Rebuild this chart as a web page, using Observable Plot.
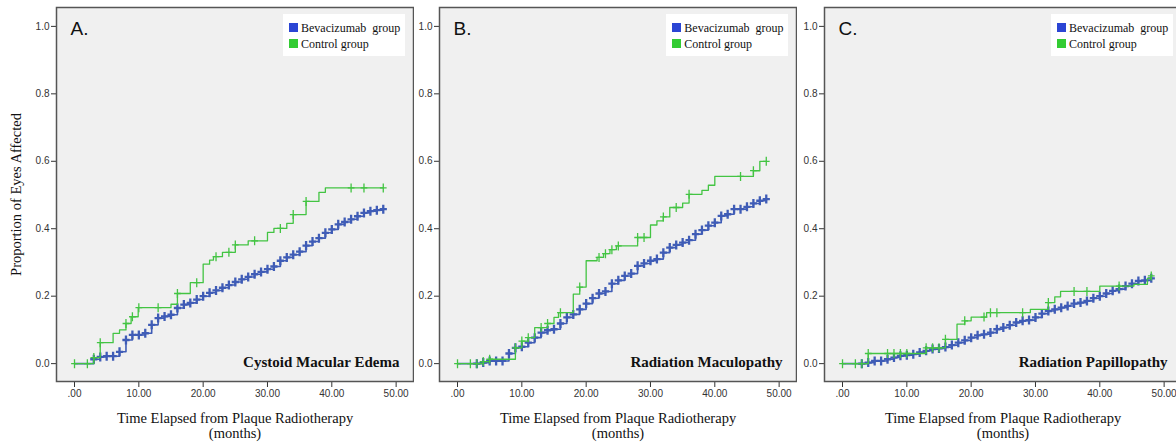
<!DOCTYPE html>
<html><head><meta charset="utf-8">
<script src="https://cdn.jsdelivr.net/npm/d3@7"></script>
<script src="https://cdn.jsdelivr.net/npm/@observablehq/plot@0.6"></script>
<style>
body{margin:0;background:#fff;overflow:hidden;}
#wrap{position:relative;width:1176px;height:442px;overflow:hidden;background:#fff;}
.panel{position:absolute;top:0;width:414px;height:442px;}
.panel svg{position:absolute;left:0;top:0;}
.legend{position:absolute;left:283px;top:14px;width:122px;height:42px;background:#fff;font-family:"Liberation Serif","Times New Roman",serif;font-size:12px;line-height:12px;color:#111;white-space:pre;}
.legend .sw{position:absolute;left:6px;width:9px;height:9px;}
.legend .lt{position:absolute;left:18px;}
</style></head><body><div id="wrap"></div>
<script>
// ---------- data ----------
const xTicks = [0, 10, 20, 30, 40, 50];
const yTicks = [0, 0.2, 0.4, 0.6, 0.8, 1.0];
const panelLetters = ["A.", "B.", "C."];
const panelTitles = ["Cystoid Macular Edema", "Radiation Maculopathy", "Radiation Papillopathy"];
const groupNames = ["Bevacizumab  group", "Control group"];
const xTitle = "Time Elapsed from Plaque Radiotherapy\n(months)";
const yTitle = "Proportion of Eyes Affected";

// Bevacizumab group: step months and censor months
const bevStepMonths = [0,3,4,5,6,7,8,9,10,11,12,13,14,15,16,17,18,19,20,21,22,23,24,25,26,27,28,29,30,31,32,33,34,35,36,37,38,39,40,41,42,43,44,45,46,47,48];
const bevCensorMonths = [3,4,5,6,7,8,9,10,11,12,13,14,15,16,17,18,19,20,21,22,23,24,25,26,27,28,29,30,31,32,33,34,35,36,37,38,39,40,41,42,43,44,45,46,47,48];

// A. Cystoid Macular Edema
const cmeBevValues = [0,0.013,0.02,0.022,0.022,0.035,0.07,0.085,0.085,0.09,0.115,0.135,0.14,0.145,0.165,0.175,0.18,0.19,0.2,0.21,0.217,0.225,0.233,0.242,0.25,0.257,0.265,0.272,0.28,0.288,0.305,0.315,0.323,0.332,0.35,0.362,0.372,0.388,0.398,0.413,0.42,0.428,0.437,0.447,0.452,0.455,0.458];
const cmeCtrlMonths = [0,3,4,6,7,8,8.8,9.9,15,16,18,20,21,21.6,23,25,27,30,31,33,34,36,38,39,48];
const cmeCtrlValues = [0,0.018,0.062,0.09,0.1,0.119,0.139,0.166,0.176,0.208,0.24,0.295,0.307,0.317,0.33,0.352,0.364,0.389,0.401,0.416,0.442,0.481,0.508,0.521,0.521];
const cmeCtrlCensor = [0,2,3,4,8,9,10,13,16,19,22,24,25,28,32,34,36,43,45,48];

// B. Radiation Maculopathy
const rmBevValues = [0,0,0.003,0.008,0.008,0.008,0.03,0.047,0.05,0.062,0.077,0.092,0.099,0.102,0.119,0.137,0.146,0.161,0.178,0.194,0.208,0.214,0.237,0.247,0.26,0.267,0.29,0.297,0.305,0.31,0.329,0.344,0.352,0.359,0.366,0.384,0.396,0.409,0.418,0.438,0.443,0.458,0.458,0.465,0.475,0.483,0.488];
const rmCtrlMonths = [0,4,5,9,10,11,12,14,15,15.7,18,19,20,21.7,22.7,23.7,24.7,28,30,31,32,33,35,36,38,39,40,46,47,48];
const rmCtrlValues = [0,0.006,0.013,0.047,0.067,0.077,0.107,0.119,0.137,0.151,0.206,0.227,0.305,0.315,0.326,0.338,0.349,0.374,0.411,0.423,0.435,0.463,0.476,0.502,0.514,0.529,0.555,0.572,0.6,0.6];
const rmCtrlCensor = [0,2,3,4,5,9,10,11,13,14,16,19,22,23,24,25,28,29,32,34,36,44,46,48];

// C. Radiation Papillopathy
const rpBevValues = [0,0,0.003,0.008,0.008,0.013,0.018,0.023,0.025,0.028,0.033,0.038,0.043,0.045,0.049,0.055,0.062,0.069,0.077,0.084,0.087,0.092,0.102,0.107,0.114,0.122,0.127,0.129,0.137,0.148,0.156,0.161,0.166,0.171,0.178,0.181,0.186,0.194,0.2,0.208,0.216,0.221,0.23,0.237,0.245,0.247,0.253];
const rpCtrlMonths = [0,4,13,16,17.8,19,20,22.4,29.2,32,33,33.9,40,45.3,47.4,48];
const rpCtrlValues = [0,0.03,0.047,0.072,0.117,0.127,0.138,0.151,0.161,0.181,0.198,0.214,0.23,0.235,0.253,0.26];
const rpCtrlCensor = [0,2,3,4,7,8,9,10,13,14,15,16,19,22,23,24,28,32,36,38,43,48];

// ---------- styling ----------
const BLUE = "#3f5cb6", GREEN = "#43c443";
const SW_BLUE = "#2b45d4", SW_GREEN = "#33cc33";
const SERIF = "Liberation Serif, Times New Roman, serif";
const SANS = "Liberation Sans, Arial, sans-serif";
const panelLeft = [0, 383.3, 768];

function stepAt(T, V, t) {
  let v = V[0];
  for (let i = 0; i < T.length; i++) if (T[i] <= t + 1e-9) v = V[i];
  return v;
}
const cross = (w) => ({
  draw(ctx, size) {
    const r = Math.sqrt(size / Math.PI);
    ctx.moveTo(-r * w, 0); ctx.lineTo(r * w, 0);
    ctx.moveTo(0, -r); ctx.lineTo(0, r);
  }
});

function makePanel(i, bevV, ctlT, ctlV, ctlC) {
  const bevLine = bevStepMonths.map((t, j) => ({t, v: bevV[j]}));
  const bevCens = bevCensorMonths.map(t => ({t, v: stepAt(bevStepMonths, bevV, t)}));
  const ctlLine = ctlT.map((t, j) => ({t, v: ctlV[j]}));
  const ctlCens = ctlC.map(t => ({t, v: stepAt(ctlT, ctlV, t)}));
  return Plot.plot({
    width: 414, height: 442,
    marginLeft: 56, marginRight: 1, marginTop: 7, marginBottom: 61,
    x: {domain: [-2.8, 52.7]},
    y: {domain: [-0.053, 1.056]},
    style: {background: "transparent", fontFamily: SANS, fontSize: "10px", color: "#333"},
    marks: [
      Plot.frame({fill: "#f0f0f0", stroke: "none"}),
      Plot.axisX({ticks: xTicks, tickFormat: d => d === 0 ? ".00" : d.toFixed(2), tickSize: 6, tickPadding: 2, label: null}),
      Plot.axisY({ticks: yTicks, tickFormat: d => d.toFixed(1), tickSize: 5, tickPadding: 2, label: null}),
      Plot.line(bevLine, {x: "t", y: "v", curve: "step-after", stroke: BLUE, strokeWidth: 1.6}),
      Plot.dot(bevCens, {x: "t", y: "v", symbol: cross(0.8), r: 4.5, stroke: BLUE, strokeWidth: 2.3, fill: "none"}),
      Plot.line(ctlLine, {x: "t", y: "v", curve: "step-after", stroke: GREEN, strokeWidth: 1.3}),
      Plot.dot(ctlCens, {x: "t", y: "v", symbol: cross(0.75), r: 4.5, stroke: GREEN, strokeWidth: 1.3, fill: "none"}),
      Plot.frame({stroke: "#555", strokeWidth: 1.5}),
      Plot.text([panelLetters[i]], {text: d => d, frameAnchor: "top-left", dx: 14, dy: 13.7, lineAnchor: "top", textAnchor: "start", fontSize: 19, fontFamily: SANS, fill: "#111"}),
      Plot.text([panelTitles[i]], {text: d => d, frameAnchor: "bottom-right", dx: -14, dy: -19.3, lineAnchor: "middle", textAnchor: "end", fontSize: 15, fontWeight: "bold", fontFamily: SERIF, fill: "#111"}),
      Plot.text([xTitle], {text: d => d, frameAnchor: "bottom", dy: 30, lineAnchor: "top", textAnchor: "middle", lineHeight: 1.07, fontSize: 14.5, fontFamily: SERIF, fill: "#111"}),
      i === 0 ? Plot.text([yTitle], {text: d => d, frameAnchor: "left", dx: -40.5, rotate: -90, lineAnchor: "middle", textAnchor: "middle", fontSize: 14.5, fontFamily: SERIF, fill: "#111"}) : null
    ]
  });
}

const wrap = document.getElementById("wrap");
const panels = [
  makePanel(0, cmeBevValues, cmeCtrlMonths, cmeCtrlValues, cmeCtrlCensor),
  makePanel(1, rmBevValues, rmCtrlMonths, rmCtrlValues, rmCtrlCensor),
  makePanel(2, rpBevValues, rpCtrlMonths, rpCtrlValues, rpCtrlCensor)
];
panels.forEach((svg, i) => {
  const div = document.createElement("div");
  div.className = "panel";
  div.style.left = panelLeft[i] + "px";
  div.appendChild(svg);
  const lg = document.createElement("div");
  lg.className = "legend";
  const colors = [SW_BLUE, SW_GREEN];
  const swTop = [9.3, 25.3], txTop = [8, 23.5];
  groupNames.forEach((g, k) => {
    const sw = document.createElement("div");
    sw.className = "sw"; sw.style.top = swTop[k] + "px"; sw.style.background = colors[k];
    const tx = document.createElement("div");
    tx.className = "lt"; tx.style.top = txTop[k] + "px"; tx.textContent = g;
    lg.appendChild(sw); lg.appendChild(tx);
  });
  div.appendChild(lg);
  wrap.appendChild(div);
});
</script></body></html>
